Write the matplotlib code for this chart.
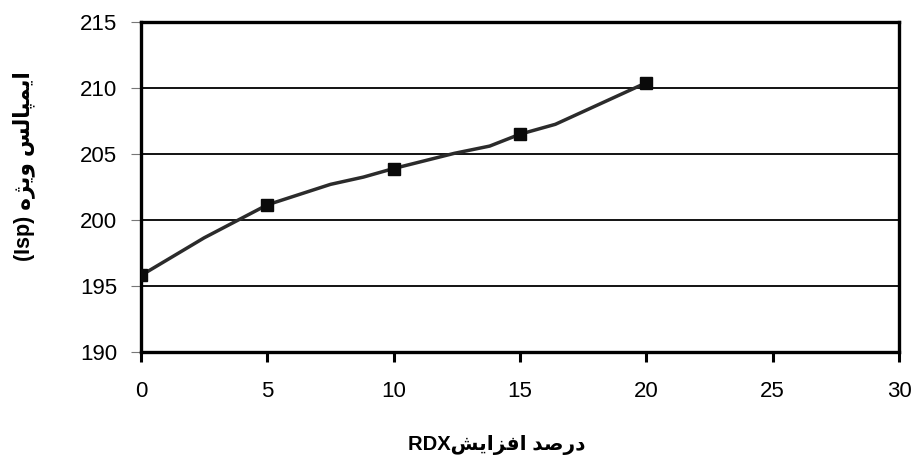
" RDX content vs specific impulse "
import matplotlib
matplotlib.use("Agg")
import matplotlib.pyplot as plt

plt.rcParams['font.family'] = ['Liberation Sans', 'DejaVu Sans']

# measured points (markers)
rdx = [0, 5, 10, 15, 20]
isp = [195.8, 201.15, 203.9, 206.5, 210.4]

# vertices of the smoothed line as drawn in the picture
curve_x = [0, 2.5, 5, 7.5, 8.8, 10, 12.4, 13.8, 15, 16.4, 20]
curve_y = [195.8, 198.65, 201.15, 202.7, 203.25, 203.9, 205.05, 205.6, 206.5, 207.25, 210.4]

xticks = [0, 5, 10, 15, 20, 25, 30]
yticks = [190, 195, 200, 205, 210, 215]

# Persian labels in visual order, presentation forms (no shaping in matplotlib)
xlabel = "RDX\ufeb6\ufef3\ufe8d\ufeb0\ufed3\ufe8d \ufeaa\ufebb\ufead\ufea9"
ylabel = "(Isp) \ufee9\ufb8b\ufef3\ufeed \ufeb2\ufedf\ufe8e\ufb59\ufee4\ufef3\ufe8d"

W, H = 915, 462
fig = plt.figure(figsize=(W / 100, H / 100), dpi=100)
ax = fig.add_axes([141 / W, 1 - 352 / H, 758 / W, 330 / H])

for y in yticks[1:-1]:
    ax.axhline(y, color="k", lw=1.3, zorder=1)

ax.plot(curve_x, curve_y, color="#2b2b2b", lw=2.5, zorder=2)
ax.plot(rdx, isp, ls="none", marker="s", ms=8.6, color="#0a0a0a", zorder=3)

ax.set_xlim(0, 30)
ax.set_ylim(190, 215)
ax.set_xticks(xticks)
ax.set_yticks(yticks)
for s in ax.spines.values():
    s.set_linewidth(2.4)
    s.set_color("k")
ax.tick_params(axis="x", direction="out", length=7, width=2.2, color="k",
               labelsize=16, pad=14)
ax.tick_params(axis="y", direction="out", length=7, width=0.8, color="#777777",
               labelsize=16, pad=10)

fig.text(497 / W, 1 - 445 / H, xlabel, fontsize=14.5, fontweight="bold",
         ha="center", va="center")
fig.text(24 / W, 1 - 166 / H, ylabel, fontsize=15.5, fontweight="bold",
         ha="center", va="center", rotation=90)

fig.savefig("out.png", dpi=100)
